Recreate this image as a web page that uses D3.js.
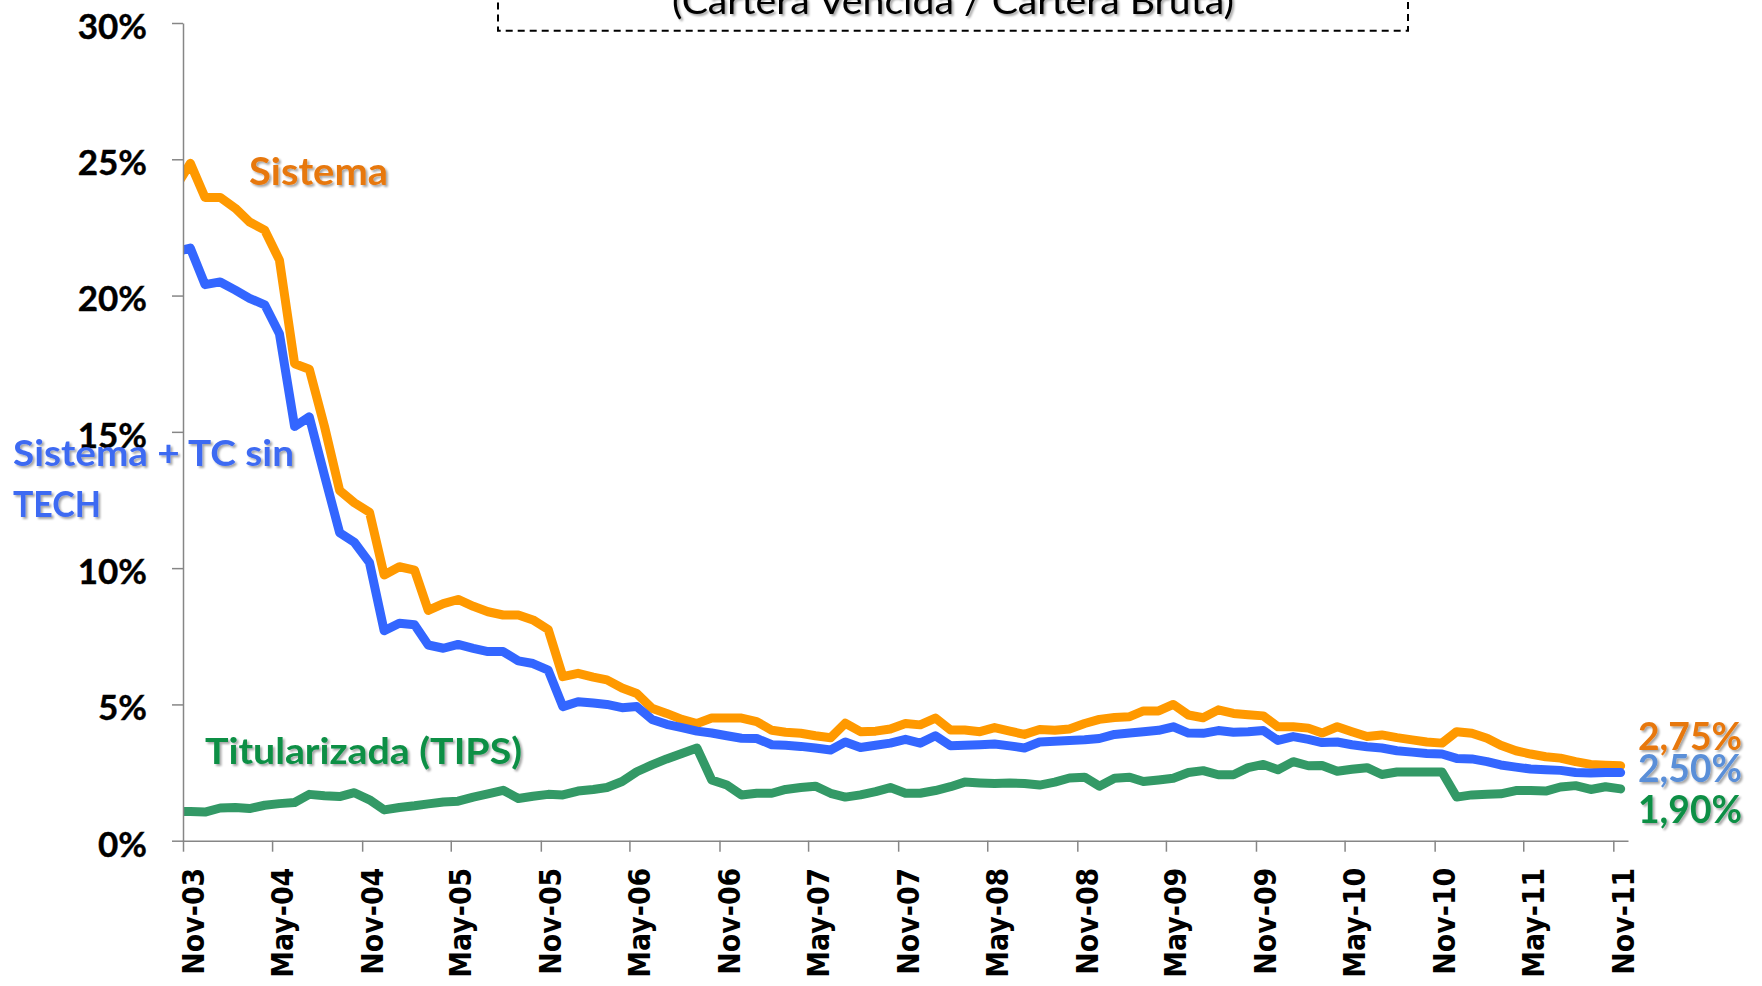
<!DOCTYPE html>
<html><head><meta charset="utf-8">
<script src="https://cdn.jsdelivr.net/npm/d3@7"></script>
<style>html,body{margin:0;padding:0;background:#fff;overflow:hidden;} svg{display:block;}</style>
</head><body>
<svg id="chart" width="1762" height="986"></svg>
<script>
// ---- data ----
const firstMonth = "Oct-03";
const lastMonth = "Nov-11";
const tickLabels = ["Nov-03","May-04","Nov-04","May-05","Nov-05","May-06","Nov-06","May-07","Nov-07",
  "May-08","Nov-08","May-09","Nov-09","May-10","Nov-10","May-11","Nov-11"];
const yTickValues = [0, 5, 10, 15, 20, 25, 30];
const titleText = "(Cartera Vencida / Cartera Bruta)";
const seriesNames = ["Sistema", "Sistema + TC sin", "TECH", "Titularizada (TIPS)"];
const endLabels = ["2,75%", "2,50%", "1,90%"];

const sistema = [23.95, 24.85, 23.6, 23.6, 23.2, 22.7, 22.4, 21.3, 17.5, 17.3, 15.2, 12.85, 12.4, 12.05,
  9.75, 10.05, 9.93, 8.45, 8.7, 8.85, 8.6, 8.4, 8.28, 8.28, 8.1, 7.75, 6.02, 6.14, 6.0, 5.9, 5.6, 5.4,
  4.86, 4.67, 4.45, 4.3, 4.5, 4.5, 4.5, 4.37, 4.05, 3.98, 3.94, 3.85, 3.78, 4.31, 4.0, 4.02, 4.1, 4.3,
  4.25, 4.5, 4.06, 4.06, 4.0, 4.15, 4.02, 3.9, 4.08, 4.05, 4.1, 4.3, 4.45, 4.52, 4.55, 4.76, 4.76, 5.0,
  4.61, 4.51, 4.8, 4.67, 4.62, 4.58, 4.18, 4.18, 4.13, 3.95, 4.18, 4.0, 3.82, 3.88, 3.78, 3.7, 3.62,
  3.58, 4.0, 3.94, 3.76, 3.5, 3.3, 3.18, 3.08, 3.03, 2.9, 2.8, 2.77, 2.75];
const sistemaTC = [21.6, 21.74, 20.4, 20.5, 20.2, 19.9, 19.66, 18.6, 15.2, 15.55, 13.4, 11.3, 10.95, 10.2,
  7.7, 7.98, 7.92, 7.18, 7.06, 7.2, 7.06, 6.94, 6.94, 6.6, 6.5, 6.26, 4.92, 5.1, 5.05, 5.0, 4.88, 4.92,
  4.45, 4.27, 4.15, 4.02, 3.95, 3.85, 3.76, 3.75, 3.52, 3.5, 3.46, 3.4, 3.33, 3.62, 3.42, 3.5, 3.58,
  3.72, 3.58, 3.85, 3.48, 3.5, 3.52, 3.55, 3.48, 3.4, 3.62, 3.65, 3.68, 3.7, 3.75, 3.9, 3.95, 4.0, 4.05,
  4.18, 3.95, 3.94, 4.04, 3.98, 4.0, 4.04, 3.68, 3.82, 3.72, 3.6, 3.62, 3.52, 3.45, 3.4, 3.3, 3.25, 3.2,
  3.18, 3.02, 3.0, 2.9, 2.78, 2.7, 2.63, 2.6, 2.58, 2.5, 2.48, 2.5, 2.5];
const tips = [1.07, 1.07, 1.05, 1.2, 1.22, 1.18, 1.3, 1.36, 1.4, 1.7, 1.65, 1.62, 1.76, 1.5, 1.13, 1.22,
  1.28, 1.35, 1.42, 1.45, 1.6, 1.72, 1.85, 1.55, 1.63, 1.7, 1.68, 1.82, 1.88, 1.95, 2.17, 2.53, 2.78,
  3.0, 3.2, 3.4, 2.23, 2.04, 1.68, 1.74, 1.74, 1.88, 1.95, 2.0, 1.74, 1.6, 1.68, 1.8, 1.95, 1.74, 1.74,
  1.84, 1.98, 2.15, 2.12, 2.1, 2.12, 2.1, 2.04, 2.15, 2.3, 2.33, 2.0, 2.29, 2.33, 2.17, 2.23, 2.29, 2.5,
  2.57, 2.42, 2.42, 2.68, 2.8, 2.6, 2.9, 2.75, 2.76, 2.55, 2.62, 2.68, 2.43, 2.52, 2.52, 2.52, 2.52,
  1.6, 1.68, 1.7, 1.72, 1.84, 1.84, 1.82, 1.97, 2.02, 1.88, 1.98, 1.9];

// ---- setup ----
const svg = d3.select("#chart");
const parse = d3.timeParse("%b-%y");
const months = d3.timeMonth.range(parse(firstMonth), d3.timeMonth.offset(parse(lastMonth), 1));
const pointDates = months.map(m => d3.timeDay.offset(m, 15));
const tickDates = tickLabels.map(parse);

const x = d3.scaleTime().domain([parse("Nov-03"), parse("Dec-11")]).range([183, 1628]);
const y = d3.scaleLinear().domain([0, 30]).range([840.7, 23]);

const defs = svg.append("defs");
defs.append("clipPath").attr("id", "plotclip").append("rect")
  .attr("x", x.range()[0]).attr("y", 0).attr("width", 1762 - x.range()[0]).attr("height", 986);
const f = defs.append("filter").attr("id", "shadow")
  .attr("x", "-10%").attr("y", "-20%").attr("width", "130%").attr("height", "160%");
f.append("feDropShadow").attr("dx", 2).attr("dy", 2).attr("stdDeviation", 1.3)
  .attr("flood-color", "#000").attr("flood-opacity", 0.35);

// ---- title box ----
svg.append("rect").attr("x", 498).attr("y", -60).attr("width", 910).attr("height", 90.7)
  .attr("fill", "none").attr("stroke", "#000").attr("stroke-width", 2)
  .attr("stroke-dasharray", "7,5");
svg.append("text").attr("x", 953).attr("y", 14).attr("text-anchor", "middle")
  .attr("font-family", "Lato").attr("font-size", 36).attr("fill", "#000")
  .attr("textLength", 562).attr("lengthAdjust", "spacingAndGlyphs")
  .attr("filter", "url(#shadow)").text(titleText);

// ---- lines ----
const lineGen = d3.line().x((d, i) => x(pointDates[i])).y(d => y(d));
const series = [
  { values: sistema, color: "#FF9900" },
  { values: sistemaTC, color: "#3366FF" },
  { values: tips, color: "#339966" }
];
const lg = svg.append("g").attr("clip-path", "url(#plotclip)");
[series[2], series[0], series[1]].forEach(s => {
  lg.append("path").datum(s.values).attr("d", lineGen)
    .attr("fill", "none").attr("stroke", s.color).attr("stroke-width", 9)
    .attr("stroke-linejoin", "round").attr("stroke-linecap", "round");
});

// ---- axes ----
const axisColor = "#868686";
const yAxis = svg.append("g").attr("transform", `translate(${x.range()[0]},0)`)
  .call(d3.axisLeft(y).tickValues(yTickValues).tickSize(11).tickSizeOuter(0).tickPadding(25)
    .tickFormat(d => d + "%"));
yAxis.selectAll("path,line").attr("stroke", axisColor).attr("stroke-width", 1.5);
yAxis.selectAll("text").attr("font-family", "Lato").attr("font-weight", 700)
  .attr("font-size", 35).attr("fill", "#000").attr("dy", "0.44em")
  .attr("stroke", "#000").attr("stroke-width", 0.4);

const xAxis = svg.append("g").attr("transform", `translate(0,${y(0)})`)
  .call(d3.axisBottom(x).tickValues(tickDates).tickSize(11).tickSizeOuter(0)
    .tickFormat((d, i) => tickLabels[i]));
xAxis.select(".domain").attr("stroke", axisColor).attr("stroke-width", 1.5);
xAxis.selectAll("line").attr("stroke", axisColor).attr("stroke-width", 1.5);
xAxis.selectAll("text")
  .attr("font-family", "DejaVu Sans").attr("font-weight", 700).attr("font-size", 30)
  .attr("fill", "#000").attr("text-anchor", "end")
  .attr("x", 0).attr("y", 0).attr("dy", 0)
  .attr("transform", "translate(20,27) rotate(-90)")
  .each(function () {
    const L = this.getComputedTextLength();
    d3.select(this).attr("textLength", L * 0.895).attr("lengthAdjust", "spacingAndGlyphs");
  });

// ---- series labels ----
function label(txt, xx, yy, size, len, color) {
  svg.append("text").attr("x", xx).attr("y", yy)
    .attr("font-family", "Lato").attr("font-weight", 700).attr("font-size", size)
    .attr("fill", color).attr("textLength", len).attr("lengthAdjust", "spacingAndGlyphs")
    .attr("filter", "url(#shadow)").text(txt);
}
label(seriesNames[0], 249, 185, 38, 139, "#E7780E");
label(seriesNames[1], 13, 466, 37, 281, "#3E6AF2");
label(seriesNames[2], 13, 517, 37, 88, "#3E6AF2");
label(seriesNames[3], 205, 764, 37, 317, "#0A8F45");
label(endLabels[0], 1638, 750, 39, 104, "#E7780E");
label(endLabels[1], 1638, 782, 39, 104, "#5A8FD8");
label(endLabels[2], 1638, 823, 39, 104, "#0A8F45");
</script>
</body></html>
